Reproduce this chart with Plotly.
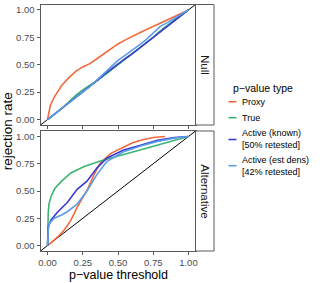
import plotly.graph_objects as go

W, H = 325, 283

# ---------------- data ----------------
null_x = [0, 0.01, 0.02, 0.05, 0.1, 0.15, 0.2, 0.25, 0.3, 0.35, 0.4, 0.45, 0.5,
          0.55, 0.6, 0.65, 0.7, 0.75, 0.8, 0.85, 0.9, 0.95, 1.0]
null_proxy = [0, 0.08, 0.13, 0.21, 0.31, 0.38, 0.44, 0.48, 0.51, 0.555, 0.60, 0.645,
              0.69, 0.725, 0.76, 0.79, 0.82, 0.85, 0.88, 0.905, 0.935, 0.965, 1.0]
null_true = [0, 0.01, 0.02, 0.05, 0.1, 0.16, 0.22, 0.27, 0.31, 0.355, 0.40, 0.45,
             0.50, 0.55, 0.60, 0.65, 0.70, 0.75, 0.81, 0.86, 0.91, 0.95, 1.0]
null_known = [0, 0.01, 0.02, 0.05, 0.1, 0.15, 0.20, 0.255, 0.305, 0.355, 0.41, 0.46,
              0.51, 0.555, 0.60, 0.65, 0.70, 0.75, 0.80, 0.85, 0.90, 0.95, 1.0]
null_est = [0, 0.01, 0.02, 0.05, 0.1, 0.15, 0.20, 0.25, 0.30, 0.36, 0.42, 0.48,
            0.54, 0.585, 0.63, 0.68, 0.73, 0.79, 0.85, 0.885, 0.925, 0.96, 1.0]

alt_proxy_x = [0, 0.02, 0.05, 0.08, 0.12, 0.165, 0.21, 0.25, 0.285, 0.33, 0.375,
               0.45, 0.54, 0.6, 0.66, 0.75, 0.835]
alt_proxy_y = [0, 0.02, 0.055, 0.09, 0.145, 0.23, 0.35, 0.44, 0.52, 0.65, 0.76,
               0.845, 0.905, 0.94, 0.965, 0.99, 1.0]
alt_true_x = [0, 0.002, 0.005, 0.01, 0.025, 0.05, 0.1, 0.165, 0.26, 0.375, 0.5,
              0.61, 0.73, 0.85, 0.92, 1.0]
alt_true_y = [0, 0.2, 0.3, 0.38, 0.45, 0.52, 0.59, 0.665, 0.725, 0.775, 0.82,
              0.86, 0.905, 0.945, 0.975, 1.0]
alt_known_x = [0, 0.002, 0.005, 0.025, 0.07, 0.14, 0.21, 0.28, 0.35, 0.42, 0.54,
               0.66, 0.78, 0.9, 1.0]
alt_known_y = [0, 0.12, 0.17, 0.235, 0.305, 0.395, 0.515, 0.59, 0.71, 0.80, 0.875,
               0.92, 0.965, 0.99, 1.0]
alt_est_x = [0, 0.002, 0.005, 0.012, 0.047, 0.1, 0.14, 0.21, 0.28, 0.35, 0.42,
             0.54, 0.66, 0.78, 0.9, 1.0]
alt_est_y = [0, 0.1, 0.14, 0.2, 0.25, 0.28, 0.31, 0.38, 0.5, 0.65, 0.77, 0.86,
             0.913, 0.955, 0.985, 1.0]

series_names = ["Proxy", "True", "Active (known)<br>[50% retested]",
                "Active (est dens)<br>[42% retested]"]
series_colors = ["#F26A3A", "#3DB572", "#3B3BD2", "#5A9DE6"]
panel_labels = ["Null", "Alternative"]
tick_vals = [0, 0.25, 0.5, 0.75, 1.0]
tick_text = ["0.00", "0.25", "0.50", "0.75", "1.00"]

FONT = "Liberation Sans, Arial, Helvetica, sans-serif"

# ---------------- layout geometry (px) ----------------
def px_x(p):
    return p / W

def px_y(p):
    return 1 - p / H

x_dom = [px_x(40.5), px_x(195.5)]
y1_dom = [px_y(125), px_y(4.5)]
y2_dom = [px_y(251), px_y(131)]

fig = go.Figure()

null_series = [null_proxy, null_true, null_known, null_est]
alt_series = [(alt_proxy_x, alt_proxy_y), (alt_true_x, alt_true_y),
              (alt_known_x, alt_known_y), (alt_est_x, alt_est_y)]

# diagonals
for xa, ya in [("x", "y"), ("x2", "y2")]:
    fig.add_trace(go.Scatter(x=[-0.05, 1.05], y=[-0.05, 1.05], mode="lines",
                             line=dict(color="black", width=1), xaxis=xa, yaxis=ya,
                             showlegend=False, hoverinfo="skip"))

for i, ys in enumerate(null_series):
    fig.add_trace(go.Scatter(x=null_x, y=ys, mode="lines", name=series_names[i],
                             line=dict(color=series_colors[i], width=1.6),
                             xaxis="x", yaxis="y", showlegend=False))
for i, (xs, ys) in enumerate(alt_series):
    fig.add_trace(go.Scatter(x=xs, y=ys, mode="lines", name=series_names[i],
                             line=dict(color=series_colors[i], width=1.6),
                             xaxis="x2", yaxis="y2", showlegend=False))

axis_common = dict(range=[-0.05, 1.05], showgrid=False, zeroline=False,
                   showline=True, mirror=True, linecolor="#5a5a5a", linewidth=1,
                   ticks="outside", ticklen=3, tickcolor="#5a5a5a",
                   tickvals=tick_vals, ticktext=tick_text, automargin=False,
                   tickfont=dict(family=FONT, size=9.5, color="#4d4d4d"))

fig.update_layout(
    width=W, height=H, margin=dict(l=0, r=0, t=0, b=0, autoexpand=False),
    paper_bgcolor="white", plot_bgcolor="white",
    xaxis=dict(domain=x_dom, anchor="y", showticklabels=False, **axis_common),
    yaxis=dict(domain=y1_dom, anchor="x", **axis_common),
    xaxis2=dict(domain=x_dom, anchor="y2", matches="x", **axis_common),
    yaxis2=dict(domain=y2_dom, anchor="x2", **axis_common),
    showlegend=False,
)

# strips
strip_x0, strip_x1 = px_x(195.5), px_x(214)
for lab, dom in zip(panel_labels, [y1_dom, y2_dom]):
    fig.add_shape(type="rect", xref="paper", yref="paper", x0=strip_x0, x1=strip_x1,
                  y0=dom[0], y1=dom[1], line=dict(color="#5a5a5a", width=1),
                  fillcolor="white", layer="above")
    fig.add_annotation(xref="paper", yref="paper", x=(strip_x0 + strip_x1) / 2,
                       y=(dom[0] + dom[1]) / 2, text=lab, textangle=90,
                       xanchor="center", yanchor="middle",
                       showarrow=False, font=dict(family=FONT, size=11.5, color="#1a1a1a"))

# axis titles
fig.add_annotation(xref="paper", yref="paper", x=px_x(118.3), y=px_y(274.5),
                   xanchor="center", yanchor="middle",
                   text="p\u2212value threshold", showarrow=False,
                   font=dict(family=FONT, size=12.5, color="black"))
fig.add_annotation(xref="paper", yref="paper", x=px_x(7.5), y=px_y(131.7),
                   xanchor="center", yanchor="middle",
                   text="rejection rate", textangle=-90, showarrow=False,
                   font=dict(family=FONT, size=13.5, color="black"))

# legend (drawn manually)
fig.add_annotation(xref="paper", yref="paper", x=px_x(230.5), y=px_y(88),
                   xanchor="left", yanchor="middle", text="p\u2212value type",
                   showarrow=False,
                   font=dict(family=FONT, size=10.5, color="black"))
leg_y = [101.7, 117.7, 139.5, 165.7]
leg_text_y = [101.7, 117.7, 139.3, 166.3]
for i in range(4):
    fig.add_shape(type="line", xref="paper", yref="paper",
                  x0=px_x(228.5), x1=px_x(236.5), y0=px_y(leg_y[i]), y1=px_y(leg_y[i]),
                  line=dict(color=series_colors[i], width=1.6))
    fig.add_annotation(xref="paper", yref="paper", x=px_x(239.5), y=px_y(leg_text_y[i]),
                       xanchor="left", yanchor="middle", align="left",
                       text=series_names[i], showarrow=False,
                       font=dict(family=FONT, size=9, color="black"))

fig.write_html("out.html",
               config={"displayModeBar": False},
               post_script="document.body.style.margin='0px';"
                           "document.body.style.padding='0px';"
                           "document.body.style.overflow='hidden';")
